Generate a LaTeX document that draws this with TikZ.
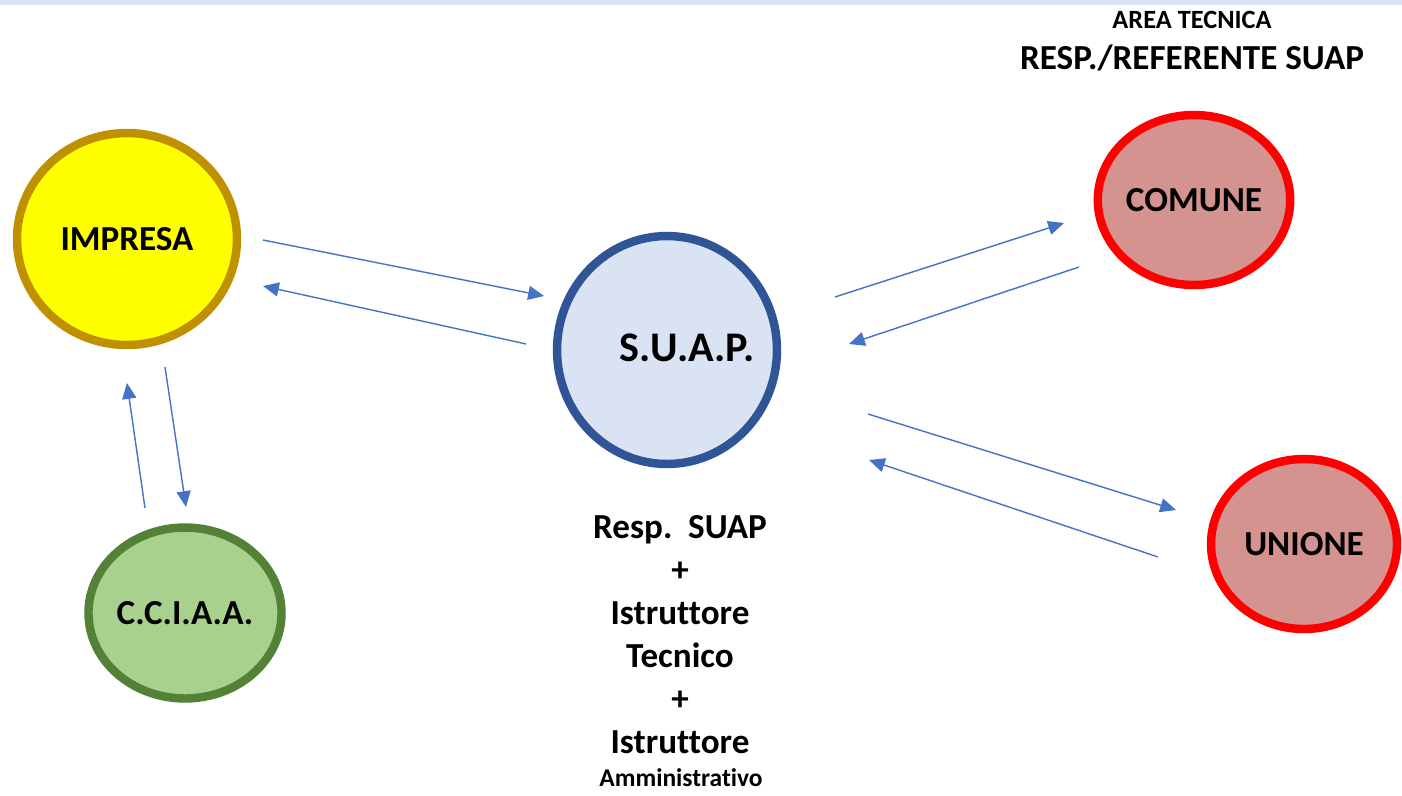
\documentclass[tikz,border=0pt]{standalone}
\usepackage{fontspec}
\setmainfont{Carlito}[Ligatures=NoCommon]
\usetikzlibrary{arrows.meta,shapes.geometric}

\definecolor{bandblue}{HTML}{DAE3F3}
\definecolor{arrowblue}{HTML}{4472C4}
\definecolor{impfill}{HTML}{FFFF00}
\definecolor{impline}{HTML}{BF9000}
\definecolor{camfill}{HTML}{A9D18E}
\definecolor{camline}{HTML}{538135}
\definecolor{suapfill}{HTML}{DAE3F3}
\definecolor{suapline}{HTML}{2F5597}
\definecolor{comfill}{HTML}{D5938F}
\definecolor{comline}{HTML}{FF0000}

\tikzset{
  blob/.style={ellipse, line width=4.8pt, inner sep=0pt,
    font=\bfseries\fontsize{20}{24}\selectfont},
  flow/.style={draw=arrowblue, line width=0.8pt, -{Triangle[length=9pt,width=8pt]}},
  staff/.style={anchor=base, font=\bfseries\fontsize{20}{24}\selectfont}
}

\begin{document}
\begin{tikzpicture}[x=0.02cm,y=-0.02cm]
  \useasboundingbox (0,0) rectangle (1402,795);
  \fill[bandblue] (0,0) rectangle (1402,5);

  % the five offices
  \node[blob, draw=impline, fill=impfill, minimum width=4.4cm, minimum height=4.24cm] (impresa) at (127,239) {IMPRESA};
  \node[blob, draw=camline, fill=camfill, minimum width=3.76cm, minimum height=3.42cm] (cciaa) at (185,613) {C.C.I.A.A.};
  \node[blob, draw=suapline, fill=suapfill, minimum width=4.4cm, minimum height=4.56cm] (suap) at (667,350) {};
  \node[font=\bfseries\fontsize{24}{28}\selectfont] (suaptxt) at (687,348) {S.U.A.P.};
  \node[blob, draw=comline, fill=comfill, minimum width=3.76cm, minimum height=3.4cm] (comune) at (1194,200) {COMUNE};
  \node[blob, draw=comline, fill=comfill, minimum width=3.72cm, minimum height=3.4cm] (unione) at (1304,544) {UNIONE};

  % heading over the comune
  \node[font=\bfseries\fontsize{15}{18}\selectfont] (area) at (1192,20) {AREA TECNICA};
  \node[font=\bfseries\fontsize{20}{24}\selectfont] (referente) at (1192,58) {RESP./REFERENTE SUAP};

  % staff under the suap
  \foreach \txt/\yy [count=\i] in {Resp.~~SUAP/538, +/581, Istruttore/624, Tecnico/667, +/710, Istruttore/753}
    \node[staff] (staff\i) at (680,\yy) {\txt};
  \node[staff, font=\bfseries\fontsize{14.5}{17}\selectfont] (amm) at (681,786) {Amministrativo};

  % free ends of the arrows
  \coordinate (a1) at (263,240);  \coordinate (b1) at (544,296);
  \coordinate (a2) at (526,344);  \coordinate (b2) at (263,286);
  \coordinate (a3) at (835,297);  \coordinate (b3) at (1064,223);
  \coordinate (a4) at (1079,267); \coordinate (b4) at (849,344);
  \coordinate (a5) at (868,414);  \coordinate (b5) at (1176,510);
  \coordinate (a6) at (1158,557); \coordinate (b6) at (869,460);
  \coordinate (a7) at (165,367);  \coordinate (b7) at (186,507);
  \coordinate (a8) at (145,508);  \coordinate (b8) at (127,383);

  \foreach \i in {1,...,8}
    \draw[flow] (a\i) -- (b\i);
\end{tikzpicture}
\end{document}
